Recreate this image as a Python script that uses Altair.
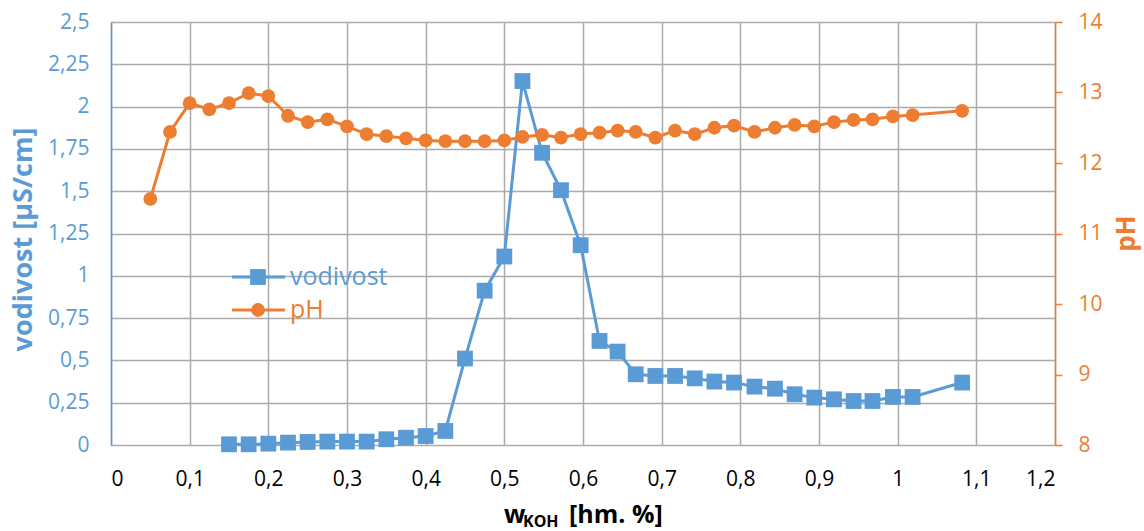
import altair as alt
import pandas as pd

BLUE = "#5B9BD5"
ORANGE = "#ED7D31"
GRID = "#ABABAB"
FONT = "Open Sans"

# conductivity series (vodivost, µS/cm)
x_cond = [0.15, 0.175, 0.2, 0.225, 0.25, 0.275, 0.3, 0.325, 0.35, 0.375, 0.4, 0.425,
          0.45, 0.475, 0.5, 0.523, 0.548, 0.572, 0.597, 0.621, 0.644, 0.667, 0.692,
          0.717, 0.742, 0.767, 0.792, 0.818, 0.844, 0.869, 0.894, 0.919, 0.944, 0.968,
          0.994, 1.019, 1.082]
vodivost = [0.004, 0.004, 0.008, 0.014, 0.018, 0.02, 0.02, 0.02, 0.034, 0.043, 0.053,
            0.083, 0.511, 0.912, 1.114, 2.151, 1.727, 1.506, 1.181, 0.615, 0.552, 0.418,
            0.408, 0.408, 0.394, 0.375, 0.369, 0.345, 0.333, 0.300, 0.280, 0.270, 0.260,
            0.260, 0.284, 0.284, 0.369]

# pH series
x_ph = [0.05, 0.075, 0.1, 0.125, 0.15, 0.175, 0.2, 0.225, 0.25, 0.275, 0.3, 0.325,
        0.35, 0.375, 0.4, 0.425, 0.45, 0.475, 0.5, 0.523, 0.548, 0.572, 0.597, 0.621,
        0.644, 0.667, 0.692, 0.717, 0.742, 0.767, 0.792, 0.818, 0.844, 0.869, 0.894,
        0.919, 0.944, 0.968, 0.994, 1.019, 1.082]
ph = [11.49, 12.44, 12.85, 12.76, 12.85, 12.99, 12.95, 12.67, 12.58, 12.62, 12.52,
      12.41, 12.38, 12.35, 12.32, 12.31, 12.31, 12.31, 12.32, 12.37, 12.40, 12.36,
      12.41, 12.43, 12.46, 12.44, 12.36, 12.46, 12.41, 12.50, 12.53, 12.44, 12.50,
      12.54, 12.52, 12.58, 12.61, 12.62, 12.66, 12.68, 12.74]

x_ticks = [0, 0.1, 0.2, 0.3, 0.4, 0.5, 0.6, 0.7, 0.8, 0.9, 1.0, 1.1, 1.2]
cond_ticks = [0, 0.25, 0.5, 0.75, 1.0, 1.25, 1.5, 1.75, 2.0, 2.25, 2.5]
ph_ticks = [8, 9, 10, 11, 12, 13, 14]

legend_names = ["vodivost", "pH"]

df_c = pd.DataFrame({"x": x_cond, "v": vodivost})
df_p = pd.DataFrame({"x": x_ph, "ph": ph})

comma = "replace(format(datum.value, '.2~f'), '.', ',')"

xenc = alt.X("x:Q", scale=alt.Scale(domain=[0, 1.2], nice=False, zero=False),
             axis=alt.Axis(values=x_ticks, labelExpr=comma, title=None, grid=True,
                           gridColor=GRID, gridWidth=1.5, ticks=False, tickSize=0,
                           domain=False, labelColor="black", labelFont=FONT,
                           labelFontSize=21, labelPadding=23))

ycond = alt.Y("v:Q", scale=alt.Scale(domain=[0, 2.5], nice=False),
              axis=alt.Axis(values=cond_ticks, labelExpr=comma, orient="left",
                            title="vodivost [µS/cm]", titleColor=BLUE, titleFont=FONT,
                            titleFontSize=27, titleFontWeight="bold", titleAngle=270,
                            titleX=-88, titleY=217, titleAlign="center",
                            titleBaseline="middle",
                            grid=True, gridColor=GRID, gridWidth=1.5, ticks=False,
                            tickSize=0, domain=True, domainColor=BLUE, domainWidth=1.5,
                            labelColor=BLUE, labelFont=FONT, labelFontSize=21,
                            labelPadding=22))

yph = alt.Y("ph:Q", scale=alt.Scale(domain=[8, 14], nice=False, zero=False),
            axis=alt.Axis(values=ph_ticks, orient="right", title="pH",
                          titleColor=ORANGE, titleFont=FONT, titleFontSize=26,
                          titleFontWeight="bold", titleAngle=270, titleX=71, titleY=211,
                          titleAlign="center", titleBaseline="middle",
                          grid=False, ticks=True, tickSize=7, tickColor=ORANGE,
                          tickWidth=1.5, domain=True, domainColor=ORANGE, domainWidth=1.5,
                          labelColor=ORANGE, labelFont=FONT, labelFontSize=21,
                          labelPadding=16))

cond_line = alt.Chart(df_c).mark_line(color=BLUE, strokeWidth=3).encode(x=xenc, y=ycond)
cond_pts = alt.Chart(df_c).mark_point(shape="square", filled=True, size=250, opacity=1,
                                      color=BLUE).encode(x=xenc, y=ycond)
ph_line = alt.Chart(df_p).mark_line(color=ORANGE, strokeWidth=3).encode(x=xenc, y=yph)
ph_pts = alt.Chart(df_p).mark_point(shape="circle", filled=True, size=190, opacity=1,
                                    color=ORANGE).encode(x=xenc, y=yph)

one = pd.DataFrame({"a": [0]})

def legend_item(name, color, shape, ypos, size):
    base = alt.Chart(one)
    r = base.mark_rule(color=color, strokeWidth=3).encode(
        x=alt.value(121), x2=alt.value(174), y=alt.value(ypos))
    p = base.mark_point(shape=shape, filled=True, size=size, opacity=1, color=color).encode(
        x=alt.value(147), y=alt.value(ypos))
    t = base.mark_text(text=name, color=color, font=FONT, fontSize=25, align="left",
                       baseline="middle").encode(x=alt.value(179), y=alt.value(ypos))
    return [r, p, t]

deco = legend_item(legend_names[0], BLUE, "square", 255, 250) + \
       legend_item(legend_names[1], ORANGE, "circle", 288, 190)

base_t = alt.Chart(one)
xt1 = base_t.mark_text(text="w", font=FONT, fontSize=25, fontWeight="bold", color="black",
                       align="left", baseline="alphabetic").encode(
    x=alt.value(393), y=alt.value(501))
xt2 = base_t.mark_text(text="KOH", font=FONT, fontSize=16, fontWeight="bold", color="black",
                       align="left", baseline="alphabetic").encode(
    x=alt.value(412), y=alt.value(505))
xt3 = base_t.mark_text(text="[hm. %]", font=FONT, fontSize=25, fontWeight="bold",
                       color="black", align="left", baseline="alphabetic").encode(
    x=alt.value(458), y=alt.value(501))

cond_layer = alt.layer(cond_line, cond_pts)
ph_layer = alt.layer(ph_line, ph_pts)
deco_layer = alt.layer(*deco, xt1, xt2, xt3)

chart = alt.layer(cond_layer, ph_layer, deco_layer).resolve_scale(
    y="independent"
).properties(
    width=944, height=423,
    autosize=alt.AutoSizeParams(type="none"),
    padding={"left": 111, "top": 22, "right": 89, "bottom": 86},
    background="white"
).configure_view(stroke=None)

chart.save("out.html", embed_options={"renderer": "svg", "actions": False})
